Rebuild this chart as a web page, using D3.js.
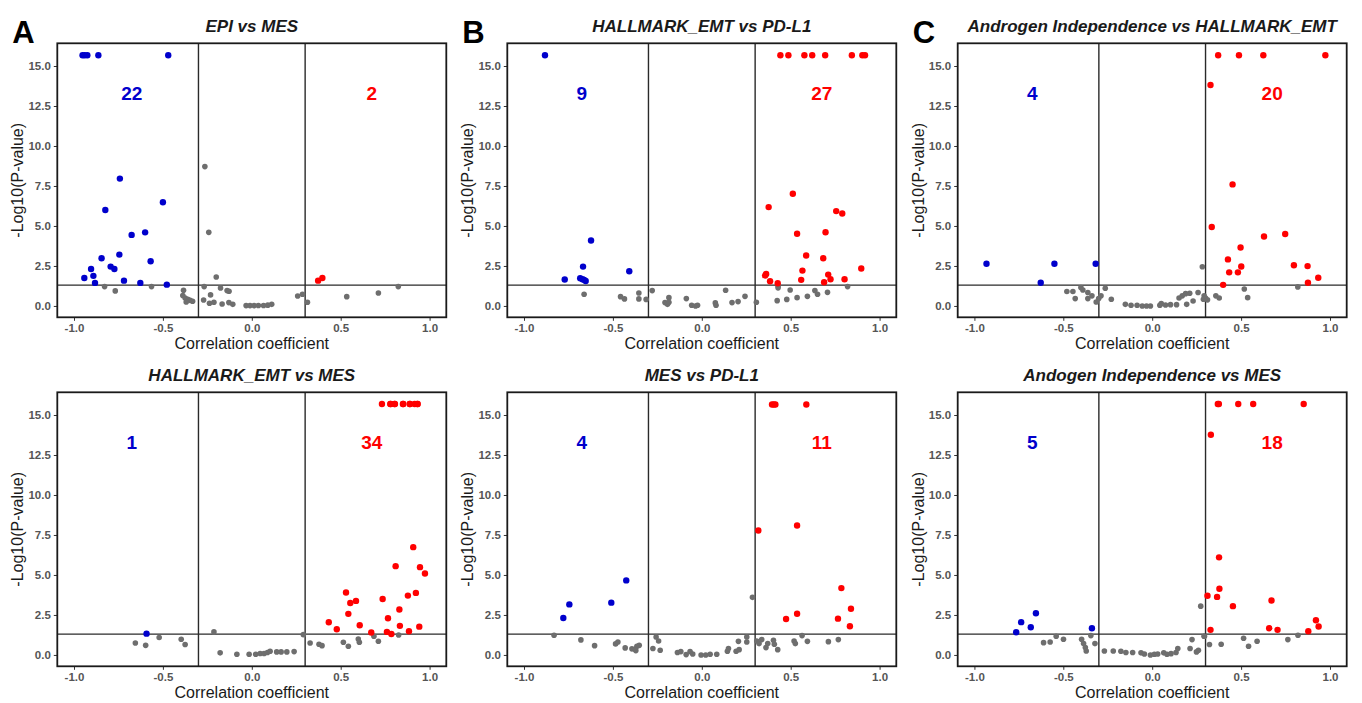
<!DOCTYPE html>
<html>
<head>
<meta charset="utf-8">
<script src="https://cdn.jsdelivr.net/npm/d3@7"></script>
<style>
  body { margin: 0; background: #fff; }
  svg text { font-family: "Liberation Sans", Arial, sans-serif; }
</style>
</head>
<body>
<div id="main"></div>
<script>
// [correlation coefficient, -log10(p)] per gene
const epiMes = [
  [-0.952,15.67],[-0.94,15.67],[-0.925,15.67],[-0.863,15.67],[-0.47,15.67],[-0.742,7.96],[-0.5,6.48],[-0.824,6.0],
  [-0.676,4.44],[-0.6,4.6],[-0.845,2.98],[-0.745,3.21],[-0.569,2.79],[-0.904,2.31],[-0.794,2.46],[-0.773,2.31],
  [-0.942,1.75],[-0.891,1.88],[-0.882,1.44],[-0.719,1.58],[-0.627,1.44],[-0.478,1.33],
  [0.373,1.58],[0.397,1.75],
  [-0.264,8.71],[-0.242,4.6],[-0.828,1.21],[-0.768,0.94],[-0.564,1.21],[-0.384,0.98],[-0.388,0.65],[-0.375,0.5],
  [-0.36,0.42],[-0.347,0.35],[-0.333,0.29],[-0.369,0.25],[-0.2,1.81],[-0.268,1.21],[-0.176,1.12],[-0.139,0.96],
  [-0.128,0.92],[-0.232,0.69],[-0.271,0.375],[-0.238,0.17],[-0.213,0.23],[-0.167,0.125],[-0.129,0.21],[-0.107,0.1],
  [-0.032,0.02],[-0.01,0.02],[0.013,0.02],[0.037,0.03],[0.066,0.03],[0.09,0.05],[0.112,0.1],[0.258,0.625],
  [0.285,0.73],[0.313,0.23],[0.534,0.58],[0.712,0.81],[0.824,1.21]
];
const emtPdl1 = [
  [-0.882,15.67],[-0.623,4.09],[-0.668,2.46],[-0.408,2.17],[-0.771,1.65],[-0.684,1.73],[-0.671,1.67],[-0.662,1.63],[-0.653,1.56],
  [0.442,15.67],[0.487,15.67],[0.577,15.67],[0.621,15.67],[0.694,15.67],[0.844,15.67],[0.903,15.67],[0.918,15.67],
  [0.512,7.01],[0.376,6.18],[0.756,5.93],[0.79,5.78],[0.536,4.51],[0.696,4.61],[0.587,3.15],[0.683,2.98],[0.897,2.34],
  [0.566,2.21],[0.356,1.9],[0.362,2.0],[0.384,1.54],[0.427,1.42],[0.559,1.63],[0.711,1.96],[0.724,1.67],[0.688,1.48],[0.803,1.67],
  [-0.662,0.73],[-0.457,0.58],[-0.435,0.44],[-0.354,0.81],[-0.354,0.44],[-0.313,0.41],[-0.279,0.96],[-0.185,0.52],
  [-0.207,0.21],[-0.193,0.1],[-0.185,0.23],[-0.087,0.46],[-0.057,0.04],[-0.035,0.0],[-0.024,0.04],[0.076,0.19],
  [0.08,0.04],[0.134,0.98],[0.17,0.21],[0.204,0.27],[0.243,0.6],[0.307,0.23],[0.424,0.33],[0.429,1.13],[0.429,1.25],
  [0.497,1.0],[0.478,0.41],[0.536,0.52],[0.594,0.6],[0.636,0.96],[0.651,0.73],[0.707,0.85],[0.82,1.21]
];
const aiEmt = [
  [-0.932,2.64],[-0.55,2.64],[-0.318,2.64],[-0.627,1.45],
  [0.371,15.67],[0.488,15.67],[0.625,15.67],[0.974,15.67],[0.328,13.81],[0.452,7.6],[0.335,4.94],[0.629,4.34],
  [0.748,4.5],[0.497,3.65],[0.426,2.91],[0.501,2.47],[0.797,2.54],[0.874,2.49],[0.433,2.1],[0.482,2.1],
  [0.934,1.76],[0.876,1.45],[0.399,1.32],
  [0.282,2.45],[-0.48,0.9],[-0.446,0.9],[-0.433,0.46],[-0.401,1.15],[-0.39,1.0],[-0.362,0.84],[-0.362,0.46],
  [-0.339,0.63],[-0.315,0.25],[-0.301,0.46],[-0.288,0.63],[-0.264,1.11],[-0.23,0.42],[-0.151,0.1],[-0.119,0.04],
  [-0.085,0.04],[-0.056,0.0],[-0.032,0.0],[-0.01,0.0],[0.043,0.04],[0.051,0.15],[0.075,0.06],[0.103,0.08],
  [0.137,0.08],[0.151,0.5],[0.169,0.63],[0.188,0.77],[0.194,0.1],[0.211,0.79],[0.23,0.31],[0.258,0.84],
  [0.292,0.63],[0.288,0.42],[0.3,0.5],[0.311,0.38],[0.358,0.63],[0.377,0.5],[0.518,1.06],[0.537,0.52],[0.819,1.19]
];
const emtMes = [
  [-0.592,1.33],
  [0.732,15.69],[0.779,15.69],[0.781,15.69],[0.803,15.69],[0.805,15.69],[0.85,15.69],[0.852,15.69],[0.888,15.69],
  [0.89,15.69],[0.916,15.69],[0.931,15.69],[0.933,15.69],
  [0.908,6.74],[0.809,5.55],[0.946,5.49],[0.974,5.09],[0.53,3.9],[0.923,3.88],[0.878,3.71],[0.586,3.38],[0.554,3.25],
  [0.736,3.5],[0.543,2.57],[0.83,2.84],[0.766,2.29],[0.433,2.04],[0.478,1.61],[0.607,1.86],[0.833,1.82],[0.942,1.77],
  [0.672,1.4],[0.76,1.44],[0.785,1.31],[0.884,1.48],
  [-0.655,0.75],[-0.597,0.6],[-0.521,1.09],[-0.397,0.98],[-0.375,0.65],[-0.213,1.44],[-0.178,0.13],[-0.084,0.04],
  [-0.015,0.04],[0.022,0.04],[0.047,0.09],[0.069,0.09],[0.088,0.15],[0.103,0.23],[0.14,0.19],[0.165,0.19],
  [0.197,0.19],[0.238,0.21],[0.29,1.27],[0.328,0.75],[0.378,0.67],[0.395,0.58],[0.515,0.79],[0.543,0.54],
  [0.599,1.0],[0.605,0.79],[0.687,1.17],[0.712,0.86],[0.826,1.25]
];
const mesPdl1 = [
  [-0.779,2.31],[-0.745,3.16],[-0.509,3.27],[-0.425,4.66],
  [0.395,15.66],[0.405,15.66],[0.414,15.66],[0.588,15.66],[0.318,7.78],[0.536,8.09],[0.785,4.18],[0.839,2.89],
  [0.536,2.58],[0.474,2.25],[0.766,2.27],[0.833,1.79],
  [0.285,3.6],[-0.831,1.23],[-0.68,0.94],[-0.603,0.58],[-0.485,0.69],[-0.472,0.81],[-0.431,0.44],[-0.393,0.38],
  [-0.375,0.35],[-0.365,0.54],[-0.352,0.6],[-0.371,0.27],[-0.257,1.12],[-0.243,0.87],[-0.275,0.4],[-0.234,0.29],
  [-0.137,0.15],[-0.118,0.21],[-0.088,0.02],[-0.066,0.21],[-0.051,0.06],[-0.004,0.0],[0.022,0.0],[0.047,0.04],
  [0.084,0.04],[0.144,0.23],[0.15,0.4],[0.193,0.23],[0.21,0.33],[0.206,0.85],[0.253,1.12],[0.253,0.81],
  [0.309,0.87],[0.322,0.71],[0.337,0.96],[0.361,0.46],[0.371,0.71],[0.403,0.92],[0.408,0.67],[0.427,0.33],
  [0.519,0.87],[0.526,0.71],[0.564,1.21],[0.594,0.85],[0.712,0.83],[0.768,0.96]
];
const aiMes = [
  [-0.765,1.42],[-0.737,2.05],[-0.683,1.73],[-0.654,2.61],[-0.339,1.67],
  [0.369,15.69],[0.375,15.69],[0.484,15.69],[0.568,15.69],[0.852,15.69],[0.33,13.77],[0.376,6.1],[0.378,4.14],
  [0.311,3.7],[0.365,3.63],[0.671,3.4],[0.454,3.05],[0.921,2.17],[0.936,1.78],[0.658,1.67],[0.328,1.57],[0.705,1.57],[0.878,1.48],
  [0.273,3.05],[0.292,1.17],[-0.611,0.77],[-0.574,0.81],[-0.54,1.17],[-0.499,0.98],[-0.397,0.98],[-0.386,0.71],
  [-0.376,0.46],[-0.371,0.25],[-0.345,1.21],[-0.322,0.71],[-0.269,0.25],[-0.219,0.25],[-0.176,0.23],[-0.148,0.15],
  [-0.11,0.15],[-0.063,0.13],[-0.044,0.06],[-0.01,0.0],[0.012,0.04],[0.031,0.06],[0.065,0.13],[0.083,0.04],
  [0.106,0.08],[0.134,0.15],[0.144,0.4],[0.213,0.4],[0.224,0.96],[0.249,0.19],[0.26,0.29],[0.294,1.17],
  [0.322,0.65],[0.388,0.67],[0.514,1.04],[0.542,0.54],[0.59,0.86],[0.763,0.96],[0.82,1.23]
];

const panelTitles = ["EPI vs MES", "HALLMARK_EMT vs PD-L1", "Androgen Independence vs HALLMARK_EMT",
                     "HALLMARK_EMT vs MES", "MES vs PD-L1", "Andogen Independence vs MES"];
const panelLetters = ["A", "B", "C", "", "", ""];
const negCounts = ["22", "9", "4", "1", "4", "5"];
const posCounts = ["2", "27", "20", "34", "11", "18"];
const panelData = [epiMes, emtPdl1, aiEmt, emtMes, mesPdl1, aiMes];

const xTicks = [-1.0, -0.5, 0.0, 0.5, 1.0];
const yTicks = [0, 2.5, 5, 7.5, 10, 12.5, 15];
const rCut = 0.3;
const pCut = -Math.log10(0.05);

const ctx = {
  SVG_W: 1362,
  SVG_H: 703,
  COLS: [57.3, 507.3, 957.7],
  ROWS: [43.3, 392.3],
  PW: 389,
  PH: 274,
  BLUE: "#0000cc",
  RED: "#ff0000",
  GRAY: "#6e6e6e",
};

function pointColor(d) {
  if (d[1] > pCut && d[0] < -rCut) return ctx.BLUE;
  if (d[1] > pCut && d[0] > rCut) return ctx.RED;
  return ctx.GRAY;
}

function drawPanel(svgEl, i) {
  const left = ctx.COLS[i % 3];
  const top = ctx.ROWS[Math.floor(i / 3)];
  const g = svgEl.append("g").attr("transform", `translate(${left},${top})`);

  const x = d3.scaleLinear().domain([-1.094, 1.094]).range([0, ctx.PW]);
  const y = d3.scaleLinear().domain([-0.71, 16.42]).range([ctx.PH, 0]);

  // axes
  const xAxis = g.append("g")
    .attr("transform", `translate(0,${ctx.PH})`)
    .call(d3.axisBottom(x).tickValues(xTicks).tickFormat(d => d.toFixed(1)).tickSize(3.5).tickPadding(3));
  const yAxis = g.append("g")
    .call(d3.axisLeft(y).tickValues(yTicks).tickFormat(d => d.toFixed(1)).tickSize(3.5).tickPadding(3));
  [xAxis, yAxis].forEach(a => {
    a.select(".domain").remove();
    a.selectAll(".tick line").attr("stroke", "#333");
    a.selectAll(".tick text")
      .attr("fill", "#555")
      .style("font-size", "11.5px")
      .style("font-weight", "bold")
      .style("font-family", "'Liberation Sans', Arial, sans-serif");
  });

  // threshold lines
  g.append("line")
    .attr("x1", 0).attr("x2", ctx.PW)
    .attr("y1", y(pCut)).attr("y2", y(pCut))
    .attr("stroke", "#2a2a2a").attr("stroke-width", 1.4);
  [-rCut, rCut].forEach(v => {
    g.append("line")
      .attr("x1", x(v)).attr("x2", x(v))
      .attr("y1", 0).attr("y2", ctx.PH)
      .attr("stroke", "#2a2a2a").attr("stroke-width", 1.4);
  });

  // points, grey first so coloured ones sit on top
  const pts = panelData[i].slice().sort((a, b) => (pointColor(a) === ctx.GRAY ? 0 : 1) - (pointColor(b) === ctx.GRAY ? 0 : 1));
  g.selectAll(".pt")
    .data(pts)
    .enter().append("circle")
    .attr("class", "pt")
    .attr("cx", d => x(d[0]))
    .attr("cy", d => y(d[1]))
    .attr("r", d => pointColor(d) === ctx.GRAY ? 2.8 : 3.2)
    .attr("fill", d => pointColor(d));

  // counts
  g.append("text")
    .attr("x", x(-0.675)).attr("y", y(13.3))
    .attr("dy", "0.36em")
    .attr("text-anchor", "middle")
    .attr("fill", ctx.BLUE)
    .style("font-size", "19px").style("font-weight", "bold")
    .text(negCounts[i]);
  g.append("text")
    .attr("x", x(0.675)).attr("y", y(13.3))
    .attr("dy", "0.36em")
    .attr("text-anchor", "middle")
    .attr("fill", ctx.RED)
    .style("font-size", "19px").style("font-weight", "bold")
    .text(posCounts[i]);

  // frame
  g.append("rect")
    .attr("width", ctx.PW).attr("height", ctx.PH)
    .attr("fill", "none").attr("stroke", "#1a1a1a").attr("stroke-width", 1.8);

  // titles
  g.append("text")
    .attr("x", ctx.PW / 2).attr("y", -11)
    .attr("text-anchor", "middle")
    .attr("fill", "#1a1a1a")
    .style("font-size", "17px").style("font-weight", "bold").style("font-style", "italic")
    .text(panelTitles[i]);
  g.append("text")
    .attr("x", ctx.PW / 2).attr("y", ctx.PH + 32)
    .attr("text-anchor", "middle")
    .attr("fill", "#1a1a1a")
    .style("font-size", "16px")
    .text("Correlation coefficient");
  g.append("text")
    .attr("transform", `translate(-34,${ctx.PH / 2}) rotate(-90)`)
    .attr("text-anchor", "middle")
    .attr("fill", "#1a1a1a")
    .style("font-size", "16px")
    .text("-Log10(P-value)");

  if (panelLetters[i]) {
    svgEl.append("text")
      .attr("x", left - 45).attr("y", top)
      .attr("fill", "#000")
      .style("font-size", "31px").style("font-weight", "bold")
      .text(panelLetters[i]);
  }
}

function createViz() {
  const svgEl = d3.select("#main").append("svg")
    .attr("width", ctx.SVG_W)
    .attr("height", ctx.SVG_H);
  svgEl.append("rect").attr("width", ctx.SVG_W).attr("height", ctx.SVG_H).attr("fill", "#fff");
  panelData.forEach((_, i) => drawPanel(svgEl, i));
}

createViz();
</script>
</body>
</html>
